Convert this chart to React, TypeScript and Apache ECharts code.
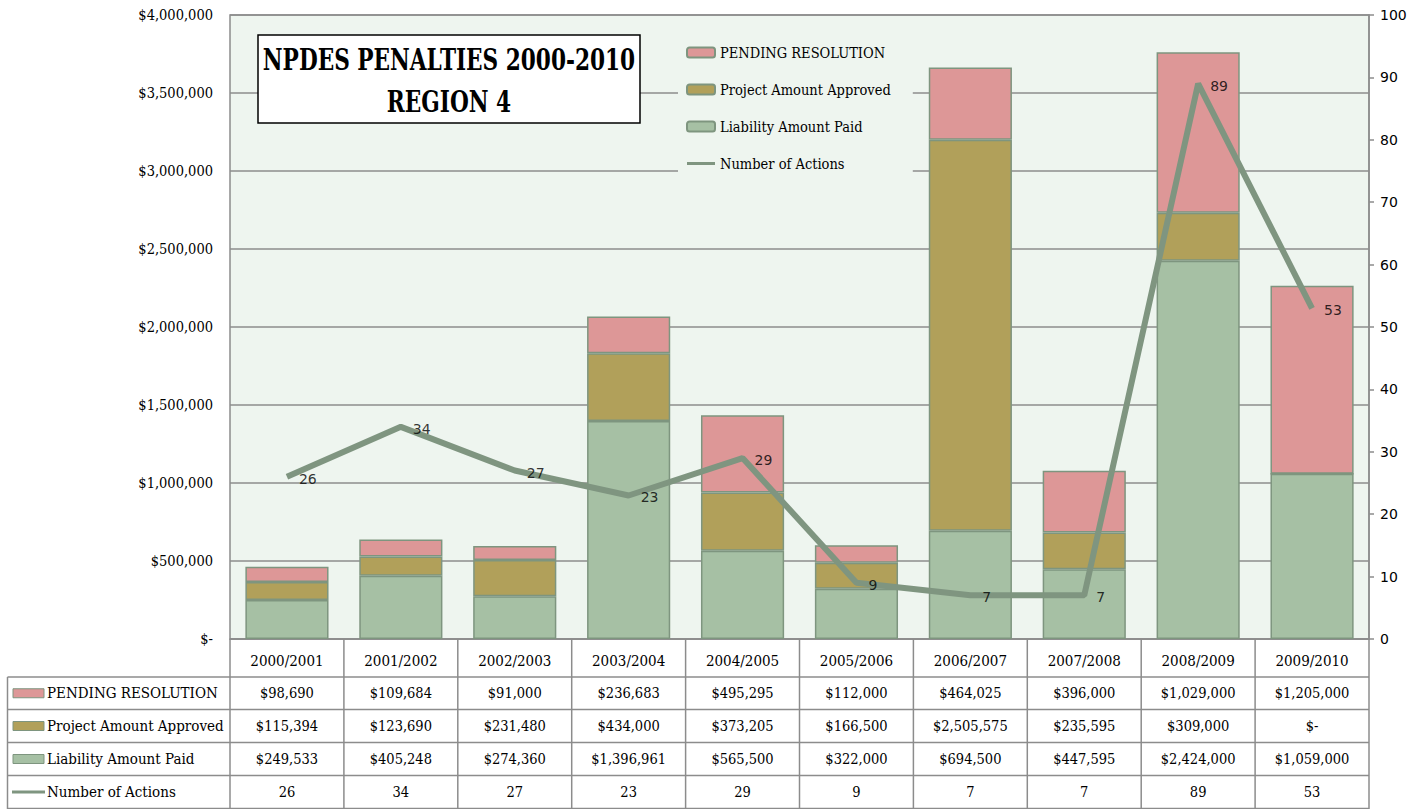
import React, { useEffect, useRef } from "react";
import * as echarts from "echarts";

const categories = ["2000/2001", "2001/2002", "2002/2003", "2003/2004", "2004/2005", "2005/2006", "2006/2007", "2007/2008", "2008/2009", "2009/2010"];
const pendingResolution = [98690, 109684, 91000, 236683, 495295, 112000, 464025, 396000, 1029000, 1205000];
const projectApproved = [115394, 123690, 231480, 434000, 373205, 166500, 2505575, 235595, 309000, 0];
const liabilityPaid = [249533, 405248, 274360, 1396961, 565500, 322000, 694500, 447595, 2424000, 1059000];
const numberOfActions = [26, 34, 27, 23, 29, 9, 7, 7, 89, 53];

const titleLines = ["NPDES PENALTIES 2000-2010", "REGION 4"];

const C_PENDING = "#DD9797";
const C_PROJECT = "#B1A05A";
const C_LIAB = "#A6C0A4";
const C_LINE = "#7F9580";
const C_BORDER = "#7E957F";
const C_GRID = "#8C8C8C";
const C_BG = "#EEF5EF";
const SERIF = "'DejaVu Serif Condensed', 'DejaVu Serif', serif";
const SANS = "'DejaVu Sans', sans-serif";

const W = 1424;
const H = 809;
const GL = 230;
const GR = 1369;
const GT = 15;
const GB = 639;
const ROWS = [639, 677, 709.5, 742.5, 775.5, 808.5];
const TABLE_LEFT = 7.5;

function money(v: number): string {
  if (v === 0) return "$-";
  return "$" + v.toLocaleString("en-US");
}

export default function App() {
  const ref = useRef<HTMLDivElement>(null);
  useEffect(() => {
    if (!ref.current) return;
    const chart = echarts.init(ref.current, null, { renderer: "svg" });
    const colW = (GR - GL) / categories.length;

    const tableRows = [
      { name: "PENDING RESOLUTION", values: pendingResolution.map(money), color: C_PENDING, kind: "bar" },
      { name: "Project Amount Approved", values: projectApproved.map(money), color: C_PROJECT, kind: "bar" },
      { name: "Liability Amount Paid", values: liabilityPaid.map(money), color: C_LIAB, kind: "bar" },
      { name: "Number of Actions", values: numberOfActions.map(String), color: C_LINE, kind: "line" },
    ];

    const graphics: any[] = [];
    for (let r = 1; r < ROWS.length; r++) {
      graphics.push({
        type: "line",
        shape: { x1: TABLE_LEFT, y1: ROWS[r], x2: GR, y2: ROWS[r] },
        style: { stroke: C_GRID, lineWidth: 1.5 },
      });
    }
    for (let i = 0; i <= categories.length; i++) {
      const x = GL + i * colW;
      graphics.push({
        type: "line",
        shape: { x1: x, y1: GB, x2: x, y2: H },
        style: { stroke: C_GRID, lineWidth: 1.5 },
      });
    }
    graphics.push({
      type: "line",
      shape: { x1: TABLE_LEFT, y1: ROWS[1], x2: TABLE_LEFT, y2: H },
      style: { stroke: C_GRID, lineWidth: 1.5 },
    });
    tableRows.forEach((row, r) => {
      const yc = (ROWS[r + 1] + ROWS[r + 2]) / 2;
      if (row.kind === "bar") {
        graphics.push({
          type: "rect",
          shape: { x: 13, y: yc - 4.5, width: 31, height: 9 },
          style: { fill: row.color, stroke: C_BORDER, lineWidth: 1 },
        });
      } else {
        graphics.push({
          type: "line",
          shape: { x1: 12, y1: yc, x2: 45, y2: yc },
          style: { stroke: row.color, lineWidth: 3 },
        });
      }
      graphics.push({
        type: "text",
        x: 47,
        y: yc,
        style: { text: row.name, font: `15px ${SERIF}`, fill: "#000", align: "left", verticalAlign: "middle" },
      });
      row.values.forEach((v, i) => {
        graphics.push({
          type: "text",
          x: GL + (i + 0.5) * colW,
          y: yc,
          style: { text: v, font: `14.5px ${SERIF}`, fill: "#000", align: "center", verticalAlign: "middle" },
        });
      });
    });
    graphics.push({
      type: "rect",
      shape: { x: 258, y: 35, width: 382, height: 88 },
      style: { fill: "#fff", stroke: "#000", lineWidth: 1.5 },
      z: 10,
    });
    titleLines.forEach((t, i) => {
      graphics.push({
        type: "text",
        x: 449,
        y: 60 + i * 41.5,
        scaleX: 0.83,
        z: 11,
        style: { text: t, font: `bold 29px ${SERIF}`, fill: "#000", align: "center", verticalAlign: "middle" },
      });
    });

    const barCommon = {
      type: "bar",
      stack: "total",
      barWidth: "73%",
      yAxisIndex: 0,
      itemStyle: { borderColor: C_BORDER, borderWidth: 1.5 },
    };

    chart.setOption({
      animation: false,
      grid: {
        left: GL,
        right: W - GR,
        top: GT,
        bottom: H - GB,
        show: true,
        backgroundColor: C_BG,
        borderColor: C_GRID,
        borderWidth: 1.5,
      },
      legend: {
        orient: "vertical",
        left: 678,
        top: 39,
        itemWidth: 28,
        itemHeight: 10,
        itemGap: 22,
        backgroundColor: C_BG,
        padding: [6, 22, 6, 8],
        data: [
          "PENDING RESOLUTION",
          "Project Amount Approved",
          "Liability Amount Paid",
          { name: "Number of Actions", icon: "path://M0,0 L28,0 L28,3 L0,3 Z" },
        ],
        textStyle: { fontFamily: SERIF, fontSize: 14.5, color: "#000", lineHeight: 15 },
      },
      xAxis: {
        type: "category",
        data: categories,
        axisLine: { show: true, lineStyle: { color: C_GRID, width: 1.5 } },
        axisTick: { show: false },
        axisLabel: { margin: 14, fontFamily: SERIF, fontSize: 15, color: "#000" },
      },
      yAxis: [
        {
          type: "value",
          min: 0,
          max: 4000000,
          interval: 500000,
          axisLine: { show: false },
          axisTick: { show: false },
          splitLine: { lineStyle: { color: C_GRID, width: 1.5 } },
          axisLabel: {
            margin: 17,
            fontFamily: SERIF,
            fontSize: 14.5,
            color: "#000",
            formatter: (v: number) => money(v),
          },
        },
        {
          type: "value",
          min: 0,
          max: 100,
          interval: 10,
          position: "right",
          axisLine: { show: true, lineStyle: { color: C_GRID, width: 1.5 } },
          axisTick: { show: true, length: 5, lineStyle: { color: C_GRID, width: 1.5 } },
          splitLine: { show: false },
          axisLabel: { margin: 11, fontFamily: SANS, fontSize: 14, color: "#000" },
        },
      ],
      series: [
        { ...barCommon, name: "Liability Amount Paid", data: liabilityPaid, itemStyle: { ...barCommon.itemStyle, color: C_LIAB } },
        { ...barCommon, name: "Project Amount Approved", data: projectApproved, itemStyle: { ...barCommon.itemStyle, color: C_PROJECT } },
        { ...barCommon, name: "PENDING RESOLUTION", data: pendingResolution, itemStyle: { ...barCommon.itemStyle, color: C_PENDING } },
        {
          type: "line",
          name: "Number of Actions",
          yAxisIndex: 1,
          data: numberOfActions,
          symbol: "none",
          itemStyle: { color: C_LINE },
          lineStyle: { color: C_LINE, width: 6 },
          z: 5,
        },
        {
          type: "scatter",
          name: "Number of Actions (labels)",
          yAxisIndex: 1,
          data: numberOfActions,
          symbolSize: 0.01,
          itemStyle: { color: "rgba(0,0,0,0)" },
          label: {
            show: true,
            position: "right",
            distance: 12,
            offset: [0, 2],
            fontFamily: SANS,
            fontSize: 14,
            color: "#000",
          },
          z: 6,
        },
      ],
      graphic: graphics,
    });
    return () => chart.dispose();
  }, []);
  return <div ref={ref} style={{ width: W, height: H, position: "absolute", left: 0, top: 0 }} />;
}
